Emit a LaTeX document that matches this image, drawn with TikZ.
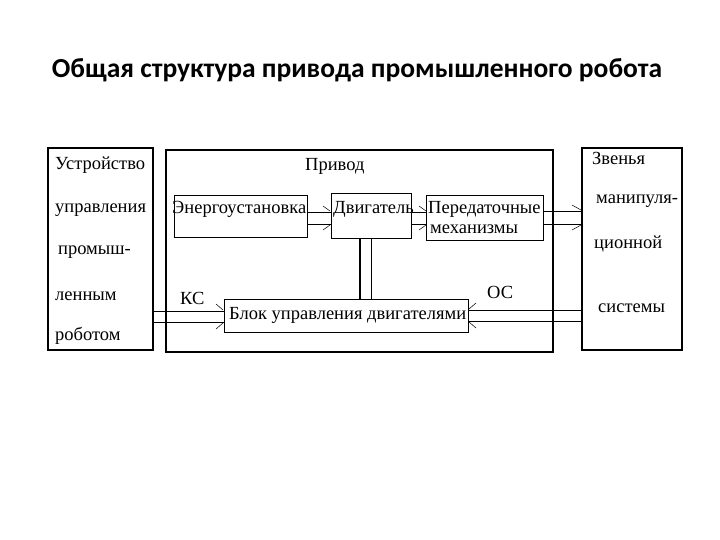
\documentclass[tikz,border=0pt]{standalone}
\usepackage{fontspec}
\setmainfont{Liberation Serif}
\newfontfamily\titlefont{Carlito}
\begin{document}
\begin{tikzpicture}[x=1pt,y=-1pt,
  blk/.style={draw,line width=0.8pt,inner sep=0pt},
  big/.style={draw,line width=1.6pt},
  lbl/.style={font=\fontsize{18.5}{20}\selectfont,anchor=west,inner sep=0pt},
  ch/.style={line width=0.7pt},
  tick/.style={line width=0.5pt}]
\useasboundingbox (0,0) rectangle (720,540);
\node[font=\titlefont\bfseries\fontsize{27.5}{30}\selectfont] (title) at (357,70) {Общая структура привода промышленного робота};
% big boxes
\draw[big] (48,148) rectangle (153,350);
\draw[big] (166,150) rectangle (553,352);
\draw[big] (582,148) rectangle (682,350);
\node[lbl] (u1) at (55,165) {Устройство};
\node[lbl] (u2) at (55,210) {управления};
\node[lbl] (u3) at (58,252) {промыш-};
\node[lbl] (u4) at (55,296) {ленным};
\node[lbl] (u5) at (55,336) {роботом};
\node[lbl] (z1) at (592,158) {Звенья};
\node[lbl] (z2) at (596,201) {манипуля-};
\node[lbl] (z3) at (594,244) {ционной};
\node[lbl] (z4) at (598,308) {системы};
\node[lbl] (pr) at (305,166) {Привод};
% inner blocks
\draw[blk] (174,195) rectangle (307,237);
\node[lbl] (en) at (172,209) {Энергоустановка};
\draw[blk] (331,193) rectangle (411,238);
\node[lbl] (dv) at (333,209) {Двигатель};
\draw[blk] (426,195) rectangle (543,240);
\node[lbl] (pe) at (428,209) {Передаточные};
\node[lbl] (me) at (430,229) {механизмы};
\draw[blk] (224,299) rectangle (468,332);
\node[lbl] (bu) at (229,315) {Блок управления двигателями};
\node[lbl] (ks) at (180,298) {КС};
\node[lbl] (os) at (487,292) {ОС};
% channels
\draw[ch] (307,212) -- (331,212) (307,224) -- (331,224);
\draw[tick] (323,206)--(330,211) (323,230)--(330,225);
\draw[ch] (411,212) -- (426,212) (411,224) -- (426,224);
\draw[tick] (419,206)--(426,211) (419,230)--(426,225);
\draw[ch] (543,211) -- (582,211) (543,224) -- (582,224);
\draw[tick] (572,205)--(581,210) (572,230)--(581,225);
\draw[line width=1.4pt] (360,238) -- (360,299);
\draw[ch] (371,238) -- (371,299);
\draw[ch] (153,311) -- (224,311) (153,322) -- (224,322);
\draw[tick] (216,304)--(223,310) (216,329)--(223,323);
\draw[ch] (468,310) -- (582,310) (468,321) -- (582,321);
\draw[tick] (476,303)--(469,309) (476,328)--(469,322);
\end{tikzpicture}
\end{document}
